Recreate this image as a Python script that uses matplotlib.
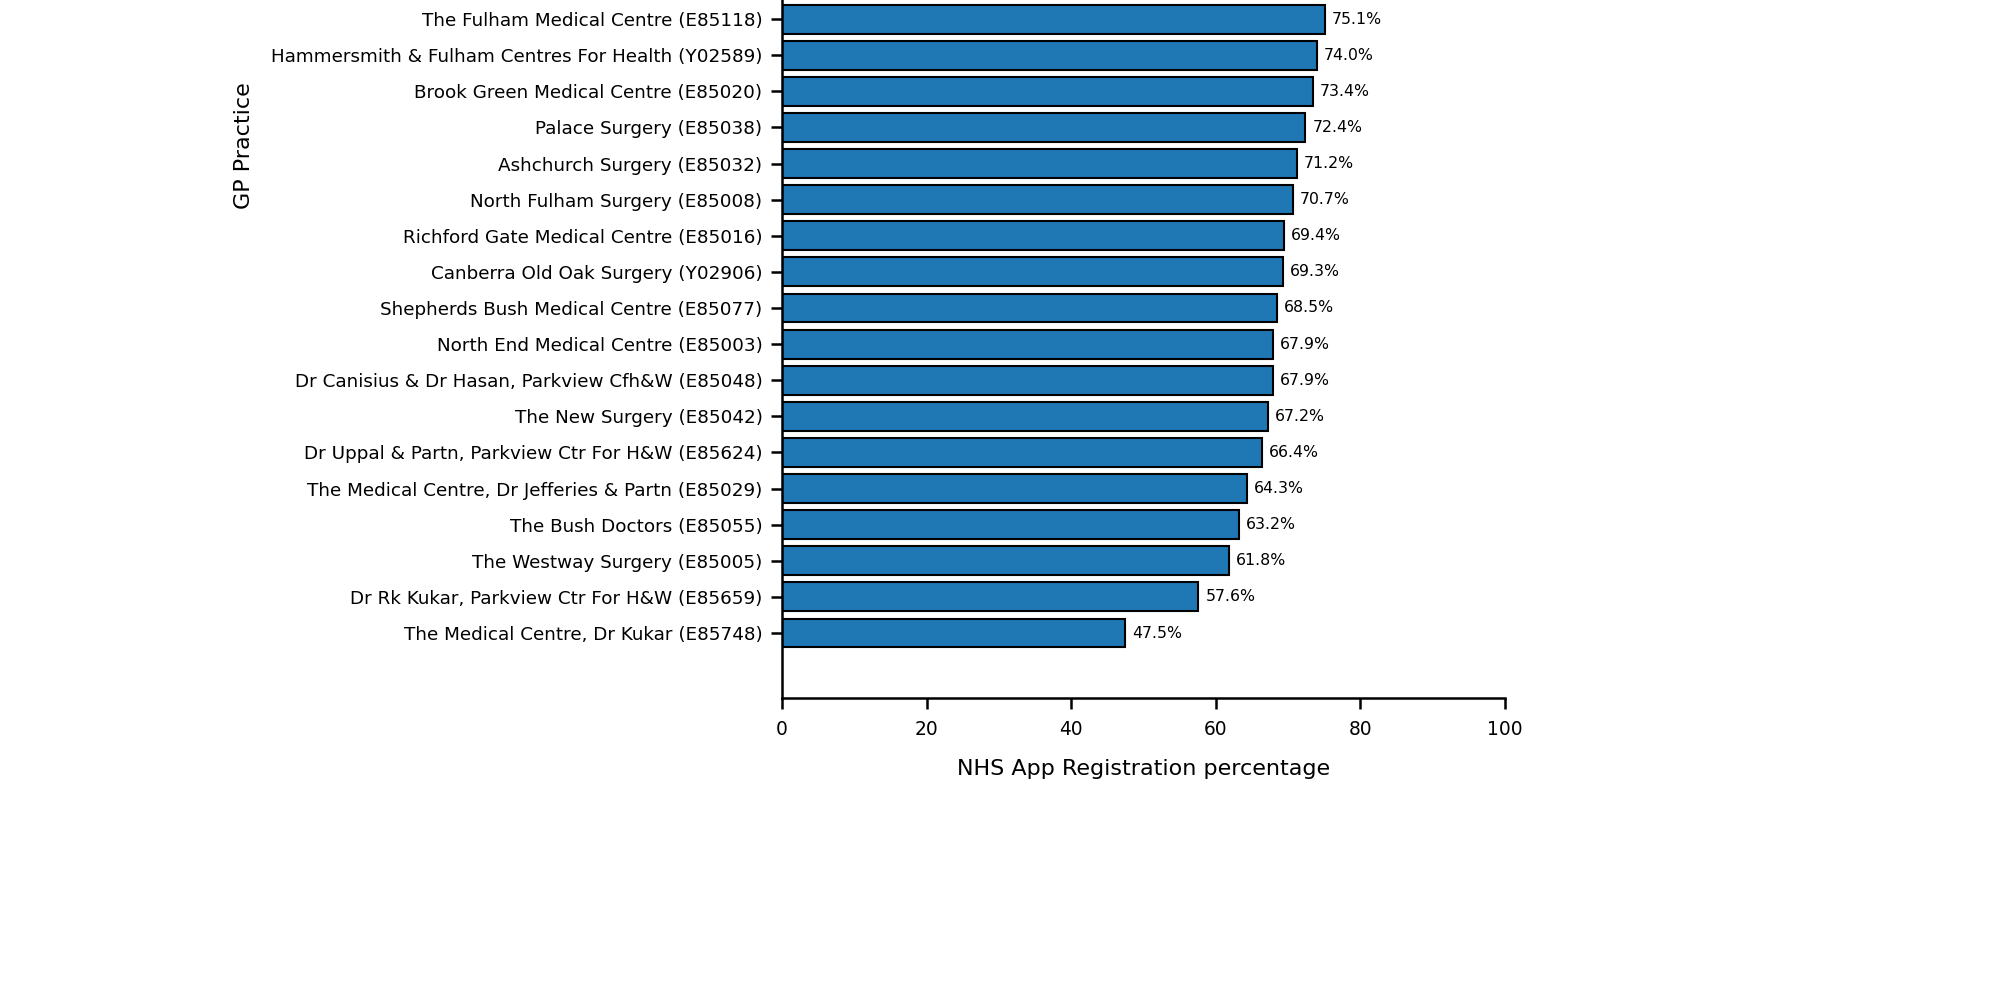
import matplotlib
matplotlib.use('Agg')
import matplotlib.pyplot as plt
import numpy as np

# practices listed top to bottom as in the chart
practices = [
    'The Fulham Medical Centre (E85118)',
    'Hammersmith & Fulham Centres For Health (Y02589)',
    'Brook Green Medical Centre (E85020)',
    'Palace Surgery (E85038)',
    'Ashchurch Surgery (E85032)',
    'North Fulham Surgery (E85008)',
    'Richford Gate Medical Centre (E85016)',
    'Canberra Old Oak Surgery (Y02906)',
    'Shepherds Bush Medical Centre (E85077)',
    'North End Medical Centre (E85003)',
    'Dr Canisius & Dr Hasan, Parkview Cfh&W (E85048)',
    'The New Surgery (E85042)',
    'Dr Uppal & Partn, Parkview Ctr For H&W (E85624)',
    'The Medical Centre, Dr Jefferies & Partn (E85029)',
    'The Bush Doctors (E85055)',
    'The Westway Surgery (E85005)',
    'Dr Rk Kukar, Parkview Ctr For H&W (E85659)',
    'The Medical Centre, Dr Kukar (E85748)',
]
registration_pct = [75.1, 74.0, 73.4, 72.4, 71.2, 70.7, 69.4, 69.3, 68.5,
                    67.9, 67.9, 67.2, 66.4, 64.3, 63.2, 61.8, 57.6, 47.5]
x_ticks = [0, 20, 40, 60, 80, 100]

fig = plt.figure(figsize=(20, 10), dpi=100)
# axes runs past the top edge of the figure, as in the original
ax = fig.add_axes([0.391, 0.302, 0.3615, 1.105])

names = practices[::-1]
vals = registration_pct[::-1]
ypos = np.arange(len(names))

bars = ax.barh(ypos, vals, height=0.8, color='#1f77b4', edgecolor='black', linewidth=1.5)
for y, v in zip(ypos, vals):
    ax.annotate(f'{v:.1f}%', xy=(v, y), xytext=(5, 0), textcoords='offset points',
                va='center', ha='left', fontsize=11.3)

ax.set_yticks(ypos)
ax.set_yticklabels(names, fontsize=13.2)
ax.set_xticks(x_ticks)
ax.set_xticklabels([str(t) for t in x_ticks], fontsize=13.4)
ax.set_xlim(0, 100)
ax.set_ylim(-1.8, 28.8)

ax.set_xlabel('NHS App Registration percentage', fontsize=16, labelpad=15)
ax.set_ylabel('GP Practice', fontsize=16, labelpad=12)

for s in ['top', 'right']:
    ax.spines[s].set_visible(False)
for s in ['left', 'bottom']:
    ax.spines[s].set_linewidth(1.8)
ax.tick_params(axis='both', length=8, width=1.8)
ax.tick_params(axis='y', pad=6)
ax.tick_params(axis='x', pad=7.5)

fig.savefig('out.png', dpi=100)
